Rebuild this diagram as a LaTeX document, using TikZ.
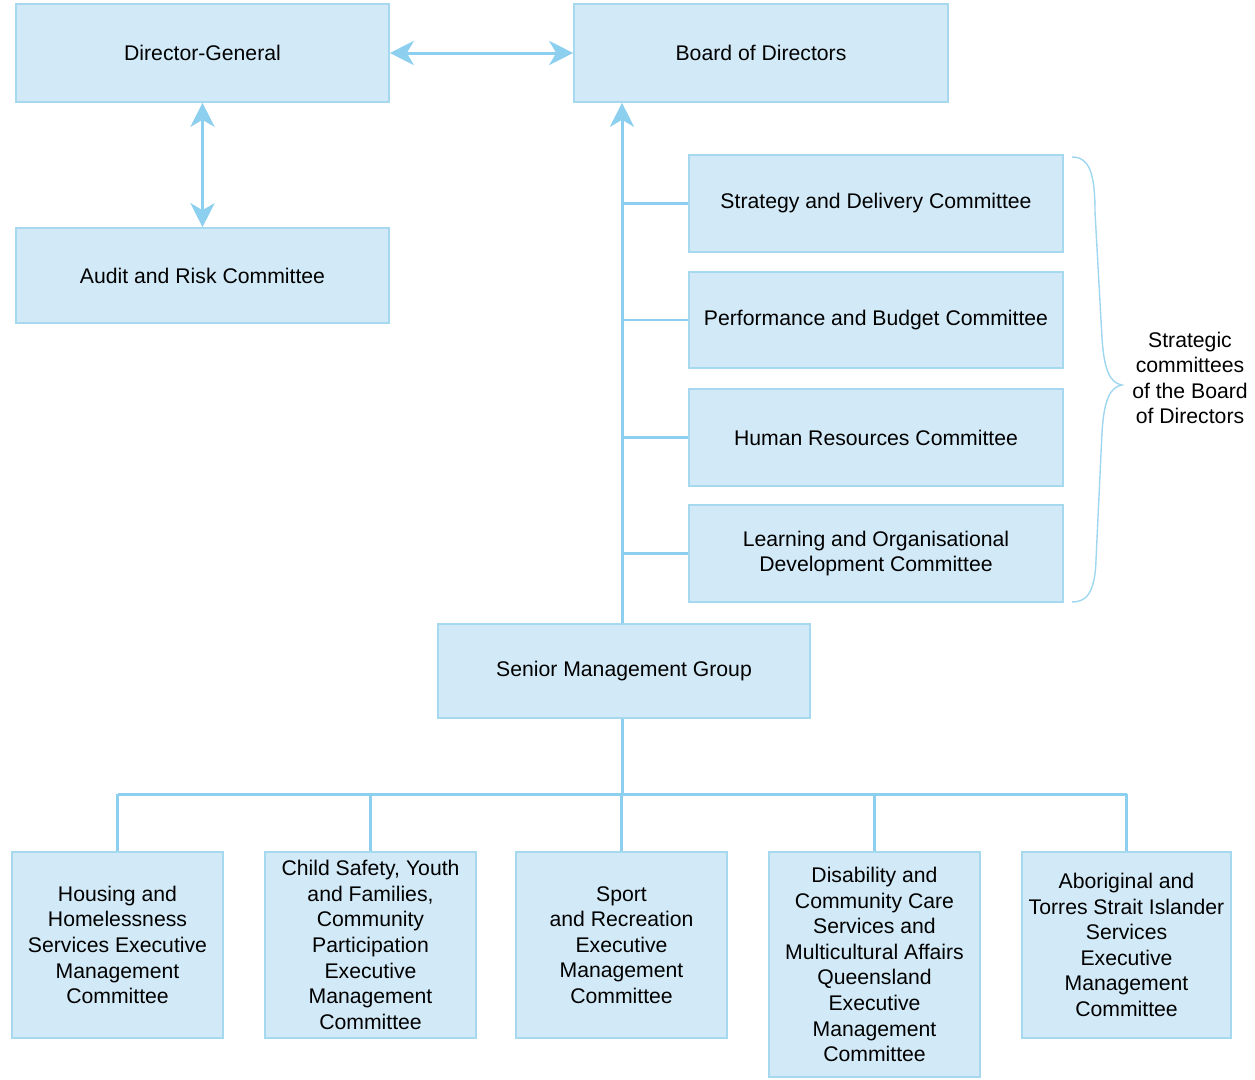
\documentclass[tikz,border=0pt]{standalone}
\usepackage{fontspec}
\setmainfont{Liberation Sans}
\usetikzlibrary{arrows.meta}
\definecolor{boxfill}{HTML}{D2EAF7}
\definecolor{boxline}{HTML}{A6D8F0}
\definecolor{link}{HTML}{8DCFEE}
\definecolor{bracecol}{HTML}{9FD6F0}
\tikzset{
  box/.style={draw=boxline, line width=1.6pt, fill=boxfill, align=center,
    inner sep=0pt, font=\fontsize{21.2}{25.6}\selectfont},
  link/.style={draw=link, line width=3pt},
  tip/.style={-{Stealth[length=24pt,width=24pt,inset=7pt]}},
  tips/.style={{Stealth[length=24pt,width=24pt,inset=7pt]}-{Stealth[length=24pt,width=24pt,inset=7pt]}},
}
\begin{document}
\begin{tikzpicture}[x=1pt,y=-1pt]
\useasboundingbox (0,0) rectangle (1255,1079);

% top row
\node[box, minimum width=373pt, minimum height=98pt] (dg) at (202.5,53) {Director-General};
\node[box, minimum width=374pt, minimum height=98pt] (bod) at (761,53) {Board of Directors};
\node[box, minimum width=373pt, minimum height=95pt] (arc) at (202.5,275.5) {Audit and Risk Committee};

% board committees
\node[box, minimum width=374pt, minimum height=97pt] (sdc) at (876,203.5) {Strategy and Delivery Committee};
\node[box, minimum width=374pt, minimum height=96pt] (pbc) at (876,320) {Performance and Budget Committee};
\node[box, minimum width=374pt, minimum height=97pt] (hrc) at (876,437.5) {Human Resources Committee};
\node[box, minimum width=374pt, minimum height=97pt] (lodc) at (876,553.5) {Learning and Organisational\\Development Committee};

% senior management
\node[box, minimum width=372pt, minimum height=94pt] (smg) at (624,671) {Senior Management Group};
\coordinate (trunk) at ([xshift=-2pt]smg.north);

% executive management committees
\node[box, minimum width=211pt, minimum height=186pt] (hhs) at (117.5,945) {Housing and\\Homelessness\\Services Executive\\Management\\Committee};
\node[box, minimum width=211pt, minimum height=186pt] (csy) at (370.5,945) {Child Safety, Youth\\and Families,\\Community\\Participation\\Executive\\Management\\Committee};
\node[box, minimum width=211pt, minimum height=186pt] (spr) at (621.5,945) {Sport\\and Recreation\\Executive\\Management\\Committee};
\node[box, minimum width=211pt, minimum height=225pt] (dcc) at (874.5,964.5) {Disability and\\Community Care\\Services and\\Multicultural Affairs\\Queensland\\Executive\\Management\\Committee};
\node[box, minimum width=209pt, minimum height=186pt] (atsi) at (1126.5,945) {Aboriginal and\\Torres Strait Islander\\Services\\Executive\\Management\\Committee};

% brace label
\node[align=center, font=\fontsize{21.2}{25.6}\selectfont] (lbl) at (1190,378) {Strategic\\committees\\of the Board\\of Directors};

% connectors
\draw[link, tips] (dg.east) -- (bod.west);
\draw[link, tips] (dg.south) -- (arc.north);
\draw[link, tip] (trunk) -- (trunk |- bod.south);
\foreach \c in {sdc,pbc,hrc,lodc}
  \draw[link, line width=2.4pt] (trunk |- \c.west) -- (\c.west);

\coordinate (bus) at (0,794);
\draw[link] (trunk |- smg.south) -- (trunk |- bus);
\draw[link] (hhs.north |- bus) -- (atsi.north |- bus);
\foreach \b in {hhs,csy,spr,dcc,atsi}
  \draw[link] (\b.north |- bus) -- (\b.north);

% curly brace
\draw[bracecol, line width=1.4pt]
  (1072,157) .. controls (1090,157) and (1095,175) .. (1095,212)
  -- (1102,338) .. controls (1104,370) and (1110,383) .. (1122,385)
  .. controls (1110,387) and (1104,400) .. (1102,432)
  -- (1096,560) .. controls (1095,595) and (1085,602) .. (1072,602);
\end{tikzpicture}
\end{document}
